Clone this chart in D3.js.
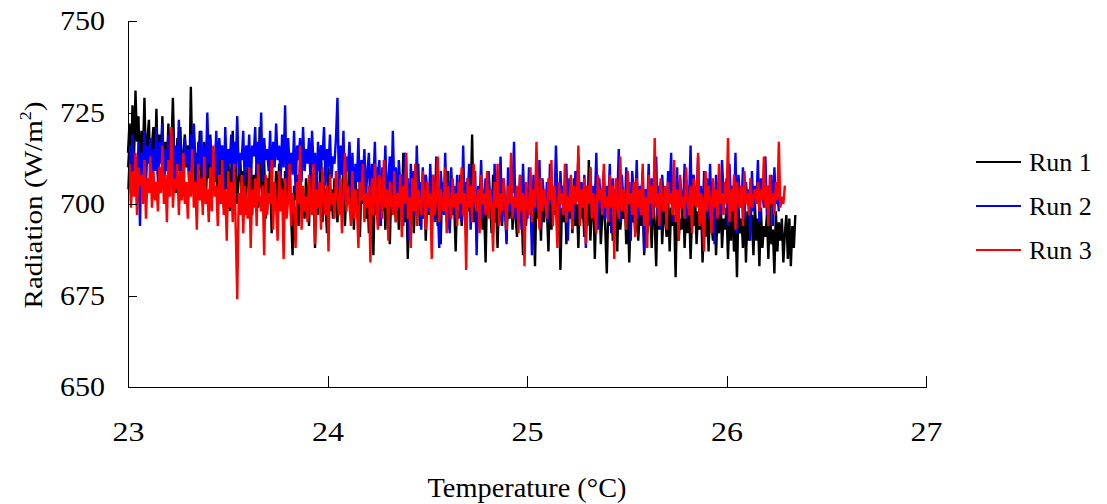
<!DOCTYPE html>
<html>
<head lang="en">
  <title>Radiation vs temperature</title>
  <script src="https://d3js.org/d3.v7.min.js" charset="utf-8"></script>
  <style>
    body { margin: 0; background: #fff; }
  </style>
</head>
<body>
  <script>

    // radiation readings (W/m2); one reading every tempStep degrees
    var tempStart = 23.0;
    var tempStep = 0.0075;

    var run1 = [
      714,722,708,727,712,731,717,724,706,720,713,729,709,718,723,705,716,721,711,726,
      708,719,713,724,704,717,710,722,707,715,729,712,703,718,709,721,706,714,719,710,
      716,705,732,711,718,702,714,709,720,704,712,717,700,713,707,719,703,711,706,715,
      701,712,708,716,699,710,704,714,698,709,720,703,711,700,707,713,702,709,697,706,
      710,700,713,697,708,704,711,699,721,705,702,712,696,707,703,710,692,706,701,709,
      698,711,703,707,695,709,700,704,712,697,686,705,701,708,694,710,699,703,696,707,
      702,694,709,699,705,688,708,697,703,716,695,706,700,692,710,698,704,696,707,701,
      695,709,703,698,712,694,705,700,716,697,702,693,708,699,704,691,706,700,710,696,
      703,692,707,699,686,705,697,710,694,702,698,708,693,704,700,689,706,697,703,695,
      708,693,701,697,714,695,704,685,702,699,707,692,705,698,711,694,700,696,706,690,
      701,697,705,692,708,699,703,694,700,689,706,698,702,695,709,693,704,697,700,687,
      703,696,708,694,700,705,691,707,698,702,719,695,704,690,701,697,706,693,699,684,
      705,697,702,692,708,695,700,688,704,698,694,706,699,690,703,696,710,693,701,697,
      691,704,698,700,686,705,694,702,697,707,692,699,683,703,696,701,690,706,695,700,
      698,687,704,693,700,697,709,691,702,682,699,695,705,689,701,696,703,692,707,694,
      700,688,703,696,699,691,705,694,712,690,698,702,685,700,695,704,689,697,701,693,
      681,699,694,703,690,697,700,687,705,693,698,696,702,689,700,684,697,695,701,692,
      703,690,698,694,700,686,704,692,697,699,688,702,695,683,700,693,706,689,698,696,
      691,702,687,699,694,697,680,701,690,696,693,703,688,699,692,700,685,697,694,702,
      689,698,693,700,684,696,691,703,687,699,694,690,701,686,697,692,704,688,696,693,
      699,685,697,690,702,687,695,680,699,692,696,688,701,684,698,690,694,697,686,700,
      690,696,683,699,688,694,691,697,685,700,689,693,681,698,687,695,690,696,684,692,
      697,685,696,683,694,688,697
    ];

    var run2 = [
      710,716,703,719,706,713,700,717,694,714,708,720,705,716,711,718,703,715,709,721,
      706,717,711,722,704,715,709,719,713,707,720,705,716,710,723,708,714,702,718,711,
      715,705,719,709,722,712,706,717,710,720,704,716,708,725,711,718,706,714,709,720,
      707,718,712,716,703,721,709,715,711,719,705,717,710,724,708,714,712,720,706,716,
      710,719,705,716,713,721,708,717,711,725,706,718,712,715,709,720,704,717,710,722,
      712,716,707,719,710,727,705,718,711,714,708,720,703,716,712,718,706,721,709,715,
      711,718,706,720,710,714,702,717,709,716,712,721,705,715,710,719,707,713,711,718,
      729,704,716,708,720,701,713,709,717,703,714,698,711,706,718,700,712,707,715,702,
      709,714,697,711,705,717,700,708,712,694,710,703,716,699,707,713,702,720,704,710,
      698,712,705,708,694,714,701,707,690,711,703,709,697,716,700,706,693,710,702,708,
      704,698,711,701,707,695,713,700,688,709,703,697,714,699,706,692,710,701,705,696,
      708,700,703,695,716,698,706,701,711,693,704,699,709,686,705,700,712,696,703,707,
      697,709,702,704,692,711,699,706,701,713,695,707,700,689,710,698,705,703,717,696,
      704,700,708,693,711,699,703,696,710,701,686,708,698,704,700,712,694,707,702,699,
      706,695,711,700,704,698,716,702,693,709,700,705,697,711,690,707,701,703,696,709,
      702,713,695,706,699,708,688,704,701,710,697,705,700,714,693,707,699,703,709,696,
      705,700,711,692,707,698,704,701,715,695,708,702,697,710,700,706,690,709,703,699,
      712,696,705,701,709,687,704,699,711,694,707,702,700,713,697,705,693,708,701,703,
      698,709,703,714,695,706,700,710,692,707,702,699,711,696,705,701,716,694,708,703,
      700,713,697,705,691,709,702,707,696,711,699,704,689,708,701,706,697,712,703,700,
      707,694,711,700,705,697,714,692,708,702,699,710,696,706,701,704,690,709,698,705,
      700,712,695,707,703,699,713,697,705,701,708,694,710,700,703,698
    ];

    var run3 = [
      704,711,699,709,702,714,697,710,705,708,700,712,696,707,703,713,699,709,701,706,
      698,710,703,716,700,708,695,712,702,721,699,707,704,711,697,709,701,714,700,706,
      696,709,702,715,699,706,693,711,701,707,697,713,700,704,695,710,698,716,702,705,
      694,708,700,712,697,704,690,709,699,706,695,711,693,674,703,697,708,692,705,700,
      696,710,688,704,699,707,694,711,701,698,705,686,708,697,703,700,712,693,706,699,
      690,709,698,704,685,707,696,701,711,694,703,699,688,706,700,716,693,705,698,702,
      695,708,700,697,711,689,704,699,706,693,710,701,697,705,687,708,700,703,696,709,
      702,697,707,692,703,714,698,705,700,694,709,696,704,699,688,706,701,711,695,703,
      699,705,684,707,697,711,700,693,708,702,696,712,699,704,690,706,701,697,709,695,
      703,699,708,691,705,700,714,696,702,688,707,698,711,694,704,700,697,709,701,693,
      706,699,703,685,708,697,702,713,695,704,700,698,710,692,705,701,696,707,699,703,
      694,706,700,710,697,703,682,707,699,705,695,711,701,698,704,692,708,700,703,697,
      709,696,704,700,687,706,699,711,694,703,698,707,701,693,705,700,714,696,702,699,
      705,692,708,698,703,683,706,700,697,710,695,704,699,717,701,693,707,698,704,700,
      696,707,701,712,694,705,699,688,706,700,703,697,711,695,702,698,708,693,705,700,
      701,716,694,704,699,707,689,705,700,710,696,703,698,692,708,701,704,697,711,699,
      702,695,708,699,705,685,707,700,696,713,698,704,701,693,709,700,703,697,706,691,
      707,699,704,697,711,694,702,688,708,700,705,696,718,699,703,694,707,701,698,705,
      693,706,700,703,697,712,695,704,690,708,699,702,696,710,701,697,705,692,707,700,
      699,714,694,703,700,687,709,698,705,701,692,707,699,704,696,711,700,703,697,706,
      700,718,695,704,698,708,693,706,701,699,705,694,709,700,703,697,707,699,702,704,
      700,706,698,704,701,713,699,705,694,708,700,703,697,706,701,717,699,702,700,705
    ];

    var runNames = ["Run 1", "Run 2", "Run 3"];
    var runColors = ["#000000", "#0000ff", "#ff0000"];
    var xTicks = [23, 24, 25, 26, 27];
    var yTicks = [650, 675, 700, 725, 750];

    var serif = "'Liberation Serif', 'Times New Roman', serif";
    var width = 1107;
    var height = 504;

    var svg = d3.select("body")
      .append("svg")
      .attr("width", width)
      .attr("height", height);

    var x = d3.scaleLinear()
      .domain([23, 27])
      .range([128, 926]);

    var y = d3.scaleLinear()
      .domain([650, 750])
      .range([387, 21]);

    var line = d3.line()
      .x(function(d, i) { return x(tempStart + i * tempStep); })
      .y(function(d) { return y(d); });

    // series, run 1 underneath
    [run1, run2, run3].forEach(function(run, k) {
      svg.append("path")
        .datum(run)
        .attr("fill", "none")
        .attr("stroke", runColors[k])
        .attr("stroke-width", 2.4)
        .attr("stroke-linejoin", "bevel")
        .attr("d", line);
    });

    // axes, ticks point inwards
    var yAxis = svg.append("g")
      .attr("transform", "translate(128,0)")
      .call(d3.axisLeft(y)
        .tickValues(yTicks)
        .tickSizeInner(-9)
        .tickSizeOuter(0)
        .tickPadding(23));

    var xAxis = svg.append("g")
      .attr("transform", "translate(0,387)")
      .call(d3.axisBottom(x)
        .tickValues(xTicks)
        .tickFormat(d3.format("d"))
        .tickSizeInner(-11)
        .tickSizeOuter(0)
        .tickPadding(35));

    [yAxis, xAxis].forEach(function(g) {
      g.selectAll("path, line")
        .attr("stroke", "#000")
        .attr("stroke-width", 1)
        .attr("shape-rendering", "crispEdges");
      g.selectAll("text")
        .style("font-family", serif)
        .style("font-size", "27px")
        .attr("fill", "#000");
    });
    // the original glyphs are a bit wider
    yAxis.selectAll("text")
      .attr("textLength", 45)
      .attr("lengthAdjust", "spacingAndGlyphs");
    xAxis.selectAll("text")
      .attr("textLength", 32)
      .attr("lengthAdjust", "spacingAndGlyphs");

    // axis titles
    svg.append("text")
      .attr("x", 527)
      .attr("y", 497)
      .attr("text-anchor", "middle")
      .style("font-family", serif)
      .style("font-size", "27px")
      .attr("textLength", 199)
      .attr("lengthAdjust", "spacingAndGlyphs")
      .text("Temperature (°C)");

    var yTitle = svg.append("text")
      .attr("transform", "translate(42,205) rotate(-90) scale(1.12,1)")
      .attr("text-anchor", "middle")
      .style("font-family", serif)
      .style("font-size", "26px");
    yTitle.append("tspan").text("Radiation (W/m");
    yTitle.append("tspan")
      .style("font-size", "16px")
      .attr("dy", "-11")
      .text("2");
    yTitle.append("tspan")
      .attr("dy", "11")
      .text(")");

    // legend
    var legend = svg.append("g")
      .attr("transform", "translate(976,162)");

    runNames.forEach(function(name, k) {
      legend.append("line")
        .attr("x1", 0)
        .attr("x2", 45)
        .attr("y1", k * 44)
        .attr("y2", k * 44)
        .attr("stroke", runColors[k])
        .attr("stroke-width", 1.8);
      legend.append("text")
        .attr("x", 53)
        .attr("y", k * 44 + 9)
        .style("font-family", serif)
        .style("font-size", "26px")
        .text(name);
    });

  </script>
</body>
</html>
